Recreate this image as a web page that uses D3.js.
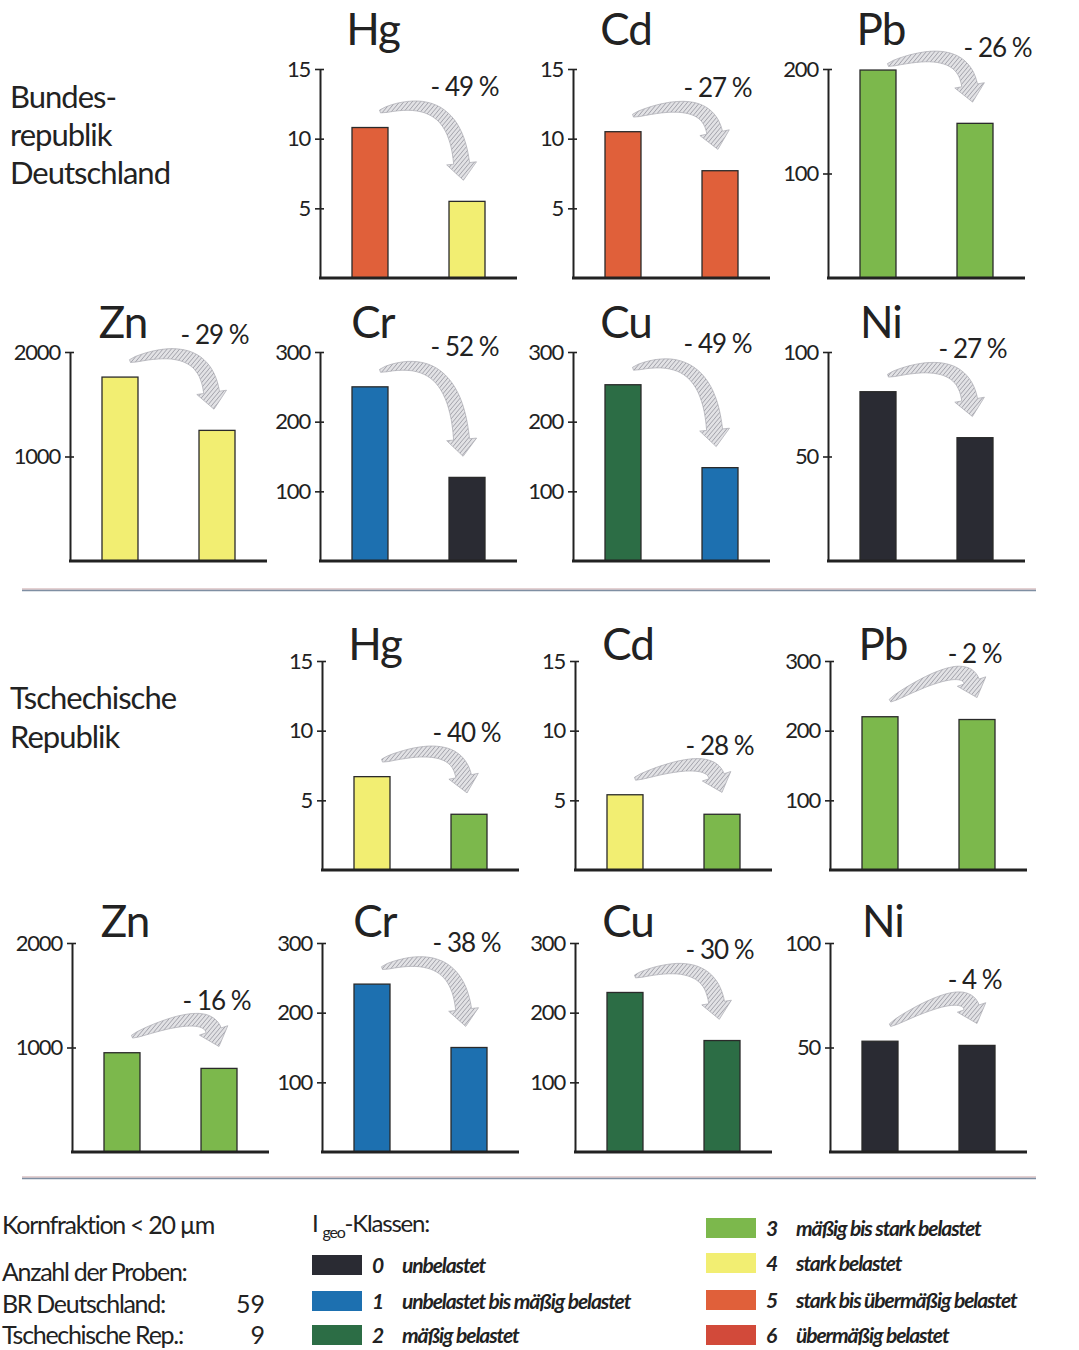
<!DOCTYPE html>
<html><head><meta charset="utf-8">
<script src="https://cdn.jsdelivr.net/npm/d3@7"></script>
<style>
html,body{margin:0;padding:0;background:#fff;}
svg{display:block;}
text{font-family:Lato,'Noto Sans',sans-serif;fill:#222;}
</style></head>
<body>
<svg id="chart" width="1079" height="1350"></svg>
<script>
// ---------- DATA ----------
const elements      = ["Hg", "Cd", "Pb", "Zn", "Cr", "Cu", "Ni"];
const axisMaxBRD    = [15, 15, 200, 2000, 300, 300, 100];
const axisMaxCZ     = [15, 15, 300, 2000, 300, 300, 100];
const tickStep      = [5, 5, 100, 1000, 100, 100, 50];
const brdBefore     = [10.8, 10.5, 199, 1760, 250, 253, 81];
const brdAfter      = [5.5, 7.7, 148, 1250, 120, 134, 59];
const czBefore      = [6.7, 5.4, 220, 950, 241, 229, 53];
const czAfter       = [4.0, 4.0, 216, 800, 150, 160, 51];
const brdChange     = ["- 49 %", "- 27 %", "- 26 %", "- 29 %", "- 52 %", "- 49 %", "- 27 %"];
const czChange      = ["- 40 %", "- 28 %", "- 2 %", "- 16 %", "- 38 %", "- 30 %", "- 4 %"];
const brdClassBefore = [5, 5, 3, 4, 1, 2, 0];
const brdClassAfter  = [4, 5, 3, 4, 0, 1, 0];
const czClassBefore  = [4, 4, 3, 3, 1, 2, 0];
const czClassAfter   = [3, 3, 3, 3, 1, 2, 0];
const classLabels = ["unbelastet", "unbelastet bis mäßig belastet", "mäßig belastet",
  "mäßig bis stark belastet", "stark belastet", "stark bis übermäßig belastet", "übermäßig belastet"];
const classColors = ["#2a2b33", "#1d70b0", "#2c6d45", "#7cb84c", "#f2ee72", "#e0603a", "#d24a3a"];
const regionLabelsBRD = ["Bundes-", "republik", "Deutschland"];
const regionLabelsCZ  = ["Tschechische", "Republik"];
const sampleInfo = [["BR Deutschland:", "59"], ["Tschechische Rep.:", "9"]];

// ---------- LAYOUT ----------
const svg = d3.select("#chart");
const colAxisX = [70, 320, 573, 828];
const rowBase  = [278, 561, 870, 1152];
const rowTitle = [45, 338, 660, 937];
const AX_H = 209, PANEL_W = 197;

// hatch pattern for arrows
const defs = svg.append("defs");
const pat = defs.append("pattern").attr("id", "hatch").attr("patternUnits", "userSpaceOnUse")
  .attr("width", 3.2).attr("height", 3.2).attr("patternTransform", "rotate(40)");
pat.append("rect").attr("width", 3.2).attr("height", 3.2).attr("fill", "#e2e2e5");
pat.append("line").attr("x1", 0).attr("y1", 0).attr("x2", 0).attr("y2", 3.2)
  .attr("stroke", "#96969f").attr("stroke-width", 1.3);

function arrowPath(p0, c, b) {
  const n = 24, left = [], right = [];
  const pt = t => [(1-t)*(1-t)*p0[0] + 2*t*(1-t)*c[0] + t*t*b[0], (1-t)*(1-t)*p0[1] + 2*t*(1-t)*c[1] + t*t*b[1]];
  const tg = t => [2*(1-t)*(c[0]-p0[0]) + 2*t*(b[0]-c[0]), 2*(1-t)*(c[1]-p0[1]) + 2*t*(b[1]-c[1])];
  for (let i = 0; i <= n; i++) {
    const t = i / n, p = pt(t), d = tg(t), L = Math.hypot(d[0], d[1]) || 1;
    const nx = -d[1]/L, ny = d[0]/L, w = (3 + 13*Math.sqrt(t)) / 2;
    left.push([p[0] + nx*w, p[1] + ny*w]); right.push([p[0] - nx*w, p[1] - ny*w]);
  }
  const d = [b[0]-c[0], b[1]-c[1]], L = Math.hypot(d[0], d[1]);
  const ux = d[0]/L, uy = d[1]/L, nx = -uy, ny = ux, hw = 15, hl = 17;
  const tip = [b[0] + ux*hl, b[1] + uy*hl];
  const pts = left.concat([[b[0]+nx*hw, b[1]+ny*hw], tip, [b[0]-nx*hw, b[1]-ny*hw]], right.reverse());
  return "M" + pts.map(p => p[0].toFixed(1) + "," + p[1].toFixed(1)).join("L") + "Z";
}

function panel(ei, axisX, base, titleY, max, v1, v2, c1, c2, change) {
  const g = svg.append("g");
  const y = d3.scaleLinear().domain([0, max]).range([base, base - AX_H]);
  const x = d3.scaleBand().domain([0, 1]).range([axisX + 32, axisX + 165]).paddingInner(0.629).paddingOuter(0);
  const vals = [{v: v1, c: c1, i: 0}, {v: v2, c: c2, i: 1}];
  // title
  g.append("text").attr("x", axisX + 53).attr("y", titleY).attr("text-anchor", "middle")
    .attr("font-size", 44).attr("letter-spacing", -1).text(elements[ei]);
  // bars
  g.selectAll("rect.bar").data(vals).join("rect").attr("class", "bar")
    .attr("x", d => x(d.i)).attr("width", x.bandwidth())
    .attr("y", d => y(d.v)).attr("height", d => base - y(d.v))
    .attr("fill", d => classColors[d.c]).attr("stroke", "#2a2a2a").attr("stroke-width", 1.3);
  // axis
  const ax = d3.axisLeft(y).tickValues(d3.range(tickStep[ei], max + 0.001, tickStep[ei]))
    .tickFormat(d3.format("d")).tickSize(5).tickSizeOuter(0).tickPadding(5);
  const ag = g.append("g").attr("transform", `translate(${axisX},0)`).call(ax);
  ag.select(".domain").attr("stroke", "#222").attr("stroke-width", 2);
  ag.selectAll(".tick line").attr("x1", 4).attr("stroke", "#222").attr("stroke-width", 1.6);
  ag.selectAll(".tick text").attr("font-size", 22).attr("letter-spacing", -1.2)
    .attr("font-family", "Lato,'Noto Sans',sans-serif").attr("fill", "#222");
  // baseline
  g.append("line").attr("x1", axisX - 1).attr("x2", axisX + PANEL_W).attr("y1", base).attr("y2", base)
    .attr("stroke", "#222").attr("stroke-width", 3);
  // change arrow
  const axisTop = y(max);
  const sx = x(0) + x.bandwidth()/2 + 10, sy = Math.max(y(v1) - 16, axisTop - 4);
  const bx = x(1) + x.bandwidth()*0.35, by = y(v2) - 38;
  const cx = bx - 8, cy = Math.min(sy, by) - 24;
  g.append("path").attr("d", arrowPath([sx, sy], [cx, cy], [bx, by]))
    .attr("fill", "url(#hatch)").attr("stroke", "#a9a9b0").attr("stroke-width", 0.7);
  // arc peak
  let peak = sy;
  for (let i = 0; i <= 40; i++) { const t = i/40; peak = Math.min(peak, (1-t)*(1-t)*sy + 2*t*(1-t)*cy + t*t*by); }
  let lx = bx + 3, ly = Math.min(sy - 14, peak - 10);
  if (sy < axisTop + 5) { lx = bx + 28; ly = peak; }
  g.append("text").attr("x", lx).attr("y", ly).attr("text-anchor", "middle")
    .attr("font-size", 26).attr("letter-spacing", -1).text(change);
}

// BRD
[0, 1, 2].forEach((ei, k) => panel(ei, colAxisX[k + 1], rowBase[0], rowTitle[0], axisMaxBRD[ei],
  brdBefore[ei], brdAfter[ei], brdClassBefore[ei], brdClassAfter[ei], brdChange[ei]));
[3, 4, 5, 6].forEach((ei, k) => panel(ei, colAxisX[k], rowBase[1], rowTitle[1], axisMaxBRD[ei],
  brdBefore[ei], brdAfter[ei], brdClassBefore[ei], brdClassAfter[ei], brdChange[ei]));
// CZ
[0, 1, 2].forEach((ei, k) => panel(ei, colAxisX[k + 1] + 2, rowBase[2], rowTitle[2], axisMaxCZ[ei],
  czBefore[ei], czAfter[ei], czClassBefore[ei], czClassAfter[ei], czChange[ei]));
[3, 4, 5, 6].forEach((ei, k) => panel(ei, colAxisX[k] + 2, rowBase[3], rowTitle[3], axisMaxCZ[ei],
  czBefore[ei], czAfter[ei], czClassBefore[ei], czClassAfter[ei], czChange[ei]));

// region labels
regionLabelsBRD.forEach((t, i) => svg.append("text").attr("x", 10).attr("y", 108 + i*38)
  .attr("font-size", 31).attr("letter-spacing", -1).text(t));
regionLabelsCZ.forEach((t, i) => svg.append("text").attr("x", 10).attr("y", 709 + i*39)
  .attr("font-size", 31).attr("letter-spacing", -1).text(t));

// separators
[590, 1178].forEach(yy => {
  svg.append("line").attr("x1", 22).attr("x2", 1036).attr("y1", yy - 1).attr("y2", yy - 1)
    .attr("stroke", "#c9a3a6").attr("stroke-width", 1.2);
  svg.append("line").attr("x1", 22).attr("x2", 1036).attr("y1", yy + 0.5).attr("y2", yy + 0.5)
    .attr("stroke", "#7f8fa3").attr("stroke-width", 1.6);
});

// legend, left text
const lg = svg.append("g");
lg.append("text").attr("x", 2).attr("y", 1234).attr("font-size", 25).attr("letter-spacing", -1.3)
  .text("Kornfraktion < 20 µm");
lg.append("text").attr("x", 2).attr("y", 1281).attr("font-size", 25).attr("letter-spacing", -1.3)
  .text("Anzahl der Proben:");
sampleInfo.forEach((s, i) => {
  lg.append("text").attr("x", 2).attr("y", 1313 + i*31).attr("font-size", 25).attr("letter-spacing", -1.3).text(s[0]);
  lg.append("text").attr("x", 265).attr("y", 1313 + i*31).attr("text-anchor", "end").attr("font-size", 25).text(s[1]);
});
const ig = lg.append("text").attr("x", 312).attr("y", 1232).attr("font-size", 24).attr("letter-spacing", -1.2);
ig.append("tspan").text("I ");
ig.append("tspan").attr("font-size", 16).attr("dy", 6).text("geo");
ig.append("tspan").attr("dy", -6).text("-Klassen:");

const legPos = [
  {x: 312, y: 1255}, {x: 312, y: 1291}, {x: 312, y: 1325},
  {x: 706, y: 1218}, {x: 706, y: 1253}, {x: 706, y: 1290}, {x: 706, y: 1325}];
classLabels.forEach((lab, i) => {
  const p = legPos[i];
  lg.append("rect").attr("x", p.x).attr("y", p.y).attr("width", 50).attr("height", 20)
    .attr("fill", classColors[i]);
  lg.append("text").attr("x", p.x + 60).attr("y", p.y + 18).attr("font-size", 21)
    .attr("font-weight", 700).attr("font-style", "italic").attr("fill", "#2a2a3a").text(i);
  lg.append("text").attr("x", p.x + 90).attr("y", p.y + 18).attr("font-size", 21)
    .attr("font-weight", 700).attr("font-style", "italic").attr("letter-spacing", -1.1)
    .attr("fill", "#2a2a3a").text(lab);
});
</script>
</body></html>
